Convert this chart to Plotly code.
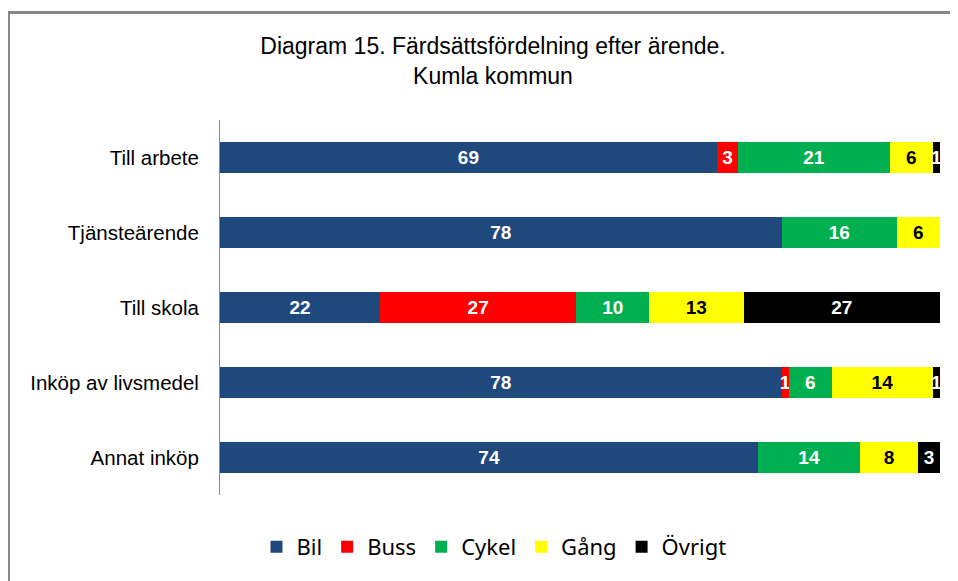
import plotly.graph_objects as go

categories = ["Till arbete", "Tjänsteärende", "Till skola", "Inköp av livsmedel", "Annat inköp"]
series_names = ["Bil", "Buss", "Cykel", "Gång", "Övrigt"]
bil = [69, 78, 22, 78, 74]
buss = [3, 0, 27, 1, 0]
cykel = [21, 16, 10, 6, 14]
gang = [6, 6, 13, 14, 8]
ovrigt = [1, 0, 27, 1, 3]
colors = ["#1F497D", "#FF0000", "#00B050", "#FFFF00", "#000000"]
text_colors = ["white", "white", "white", "black", "white"]

# page body has an 8px margin, so the figure is drawn 8px smaller and offset
OFF = 8
W, H = 958 - OFF, 581 - OFF
ML, MR, MT, MB = 220 - OFF, 18, 120 - OFF, 86
PW, PH = W - ML - MR, H - MT - MB

fig = go.Figure()
for name, vals, c, tc in zip(series_names, [bil, buss, cykel, gang, ovrigt], colors, text_colors):
    fig.add_trace(go.Bar(
        y=categories, x=vals, name=name, orientation="h",
        marker=dict(color=c, line=dict(width=0)),
        text=[str(v) if v else "" for v in vals],
        textposition="inside", insidetextanchor="middle", textangle=0,
        textfont=dict(family="Liberation Sans", size=19, color=tc, weight="bold"),
        hoverinfo="skip",
    ))

def px_x(p):
    return (p - OFF - ML) / PW

def px_y(p):
    return 1 - (p - OFF - MT) / PH

fig.update_layout(
    width=W, height=H,
    margin=dict(l=ML, r=MR, t=MT, b=MB),
    barmode="stack", barnorm="percent", bargap=0.59,
    paper_bgcolor="white", plot_bgcolor="white",
    title=dict(text="Diagram 15. Färdsättsfördelning efter ärende.<br>Kumla kommun",
               x=(493 - OFF) / W, xanchor="center", y=1 - (54 - OFF) / H, yanchor="middle",
               font=dict(family="Liberation Sans", size=23, color="black")),
    uniformtext=dict(minsize=19, mode="show"),
    xaxis=dict(range=[0, 100], visible=False, fixedrange=True),
    yaxis=dict(autorange="reversed", showline=True, linecolor="#8C8C8C", linewidth=1,
               ticks="", showgrid=False, ticklabelstandoff=16,
               tickfont=dict(family="Liberation Sans", size=20.5, color="black")),
    legend=dict(orientation="h", x=px_x(494), xanchor="center", y=px_y(547), yanchor="middle",
                font=dict(family="Noto Sans", size=22, color="black"),
                traceorder="normal", itemwidth=30),
    shapes=[
        dict(type="line", xref="paper", yref="paper", x0=px_x(8.5), x1=px_x(970),
             y0=px_y(12.5), y1=px_y(12.5), line=dict(color="#868686", width=3)),
        dict(type="line", xref="paper", yref="paper", x0=px_x(8.5), x1=px_x(8.5),
             y0=px_y(11), y1=px_y(590), line=dict(color="#868686", width=3)),
    ],
)

fig.write_html("out.html")
